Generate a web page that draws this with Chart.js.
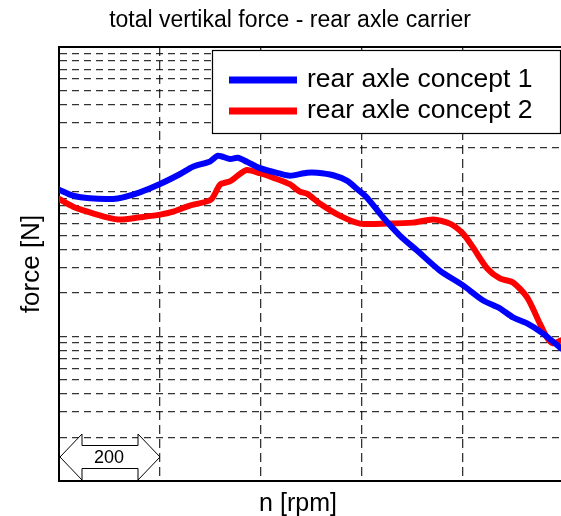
<!DOCTYPE html>
<html>
<head>
<meta charset="utf-8">
<script src="https://cdn.jsdelivr.net/npm/chart.js@4/dist/chart.umd.min.js"></script>
<style>
  html, body { margin: 0; padding: 0; overflow: hidden; background: #fff; }
  #wrap { width: 580px; height: 516px; }
</style>
</head>
<body>
<div id="wrap"><canvas id="forceChart" width="580" height="516"></canvas></div>
<script>
// engine speed [rpm] and total vertical force [N] per concept
const rpmConcept1 = [0, 28, 61, 107, 127, 160, 200, 240, 265, 299, 315, 339, 354, 372, 398, 438, 457, 491, 511, 543, 570, 592, 610, 642, 675, 709, 754, 800, 840, 873, 899, 927, 958, 994];
const forceConcept1 = [10320, 9380, 8990, 8910, 9135, 9890, 11300, 13250, 14870, 16180, 17720, 16810, 17160, 16100, 14530, 13310, 12890, 13520, 13520, 12990, 11910, 10320, 9090, 6620, 4970, 3920, 2850, 2250, 1770, 1560, 1352, 1229, 1049, 826];
const rpmConcept2 = [0, 28, 61, 95, 121, 160, 200, 226, 259, 301, 319, 339, 358, 372, 398, 424, 457, 477, 491, 517, 556, 596, 650, 701, 741, 774, 800, 820, 848, 873, 899, 927, 952, 966, 978, 994];
const forceConcept2 = [8910, 7880, 7200, 6650, 6410, 6650, 6940, 7280, 8010, 8810, 11180, 11810, 13250, 14110, 13410, 12490, 11260, 10000, 9690, 8260, 6830, 6015, 6015, 6110, 6410, 6015, 5130, 4110, 2944, 2512, 2358, 1858, 1229, 985, 895, 938];

const seriesNames = ['rear axle concept 1', 'rear axle concept 2'];
const seriesColors = ['#0000ff', '#ff0000'];

// log grid: 2..9 of every decade between 100 and 100000
const forceGrid = [100, 200, 300, 400, 500, 600, 700, 800, 900,
  1000, 2000, 3000, 4000, 5000, 6000, 7000, 8000, 9000,
  10000, 20000, 30000, 40000, 50000, 60000, 70000, 80000, 90000, 100000];
const rpmGrid = [0, 200, 400, 600, 800, 1000];
const scaleBarRpm = 200;

const titleText = 'total vertikal force - rear axle carrier';
const xLabel = 'n [rpm]';
const yLabel = 'force [N]';
const FONT = '"Liberation Sans", Arial, Helvetica, sans-serif';

const toPoints = (xs, ys) => xs.map((x, i) => ({ x: x, y: ys[i] }));

const decorations = {
  id: 'decorations',
  beforeDraw(chart) {
    const ctx = chart.ctx;
    ctx.save();
    ctx.fillStyle = '#fff';
    ctx.fillRect(0, 0, chart.width, chart.height);
    ctx.restore();
  },
  afterDraw(chart) {
    const ctx = chart.ctx;
    const area = chart.chartArea;
    const xs = chart.scales.x;
    ctx.save();

    // top frame line
    ctx.strokeStyle = '#000';
    ctx.lineWidth = 2;
    ctx.beginPath();
    ctx.moveTo(area.left, area.top);
    ctx.lineTo(area.right, area.top);
    ctx.stroke();

    // title and axis labels
    ctx.fillStyle = '#000';
    ctx.textAlign = 'center';
    ctx.textBaseline = 'alphabetic';
    ctx.font = '23px ' + FONT;
    ctx.fillText(titleText, 290, 27);
    ctx.font = '25px ' + FONT;
    ctx.fillText(xLabel, 298, 511);
    ctx.save();
    ctx.translate(39, 264);
    ctx.rotate(-Math.PI / 2);
    ctx.font = '26px ' + FONT;
    ctx.fillText(yLabel, 0, 0);
    ctx.restore();

    // legend box
    ctx.fillStyle = '#fff';
    ctx.fillRect(212, 50, 349, 84);
    ctx.strokeStyle = '#000';
    ctx.lineWidth = 1.2;
    ctx.strokeRect(212.5, 50.5, 348, 83);
    ctx.font = '26.5px ' + FONT;
    ctx.textAlign = 'left';
    chart.data.datasets.forEach((ds, i) => {
      const ly = 80 + i * 31;
      ctx.strokeStyle = ds.borderColor;
      ctx.lineWidth = 7;
      ctx.beginPath();
      ctx.moveTo(229, ly);
      ctx.lineTo(297, ly);
      ctx.stroke();
      ctx.fillStyle = '#000';
      ctx.fillText(ds.label, 307, ly + 7);
    });

    // speed scale bar
    const x0 = xs.getPixelForValue(0) + 1;
    const x1 = xs.getPixelForValue(scaleBarRpm);
    const cy = 457, headH = 23, shaftH = 11.5, headW = 22;
    ctx.beginPath();
    ctx.moveTo(x0, cy);
    ctx.lineTo(x0 + headW, cy - headH);
    ctx.lineTo(x0 + headW, cy - shaftH);
    ctx.lineTo(x1 - headW, cy - shaftH);
    ctx.lineTo(x1 - headW, cy - headH);
    ctx.lineTo(x1, cy);
    ctx.lineTo(x1 - headW, cy + headH);
    ctx.lineTo(x1 - headW, cy + shaftH);
    ctx.lineTo(x0 + headW, cy + shaftH);
    ctx.lineTo(x0 + headW, cy + headH);
    ctx.closePath();
    ctx.fillStyle = '#fff';
    ctx.fill();
    ctx.strokeStyle = '#000';
    ctx.lineWidth = 1;
    ctx.stroke();
    ctx.fillStyle = '#000';
    ctx.font = '18px ' + FONT;
    ctx.textAlign = 'center';
    ctx.fillText(String(scaleBarRpm), (x0 + x1) / 2 - 1, cy + 6);

    ctx.restore();
  }
};

new Chart(document.getElementById('forceChart').getContext('2d'), {
  type: 'line',
  data: {
    datasets: [
      { label: seriesNames[0], data: toPoints(rpmConcept1, forceConcept1), borderColor: seriesColors[0] },
      { label: seriesNames[1], data: toPoints(rpmConcept2, forceConcept2), borderColor: seriesColors[1] }
    ]
  },
  options: {
    responsive: false,
    animation: false,
    layout: { padding: { left: 59, top: 47, right: 16, bottom: 35 } },
    elements: {
      line: { borderWidth: 6, tension: 0.25, fill: false, borderCapStyle: 'round', borderJoinStyle: 'round' },
      point: { radius: 0 }
    },
    plugins: {
      legend: { display: false },
      title: { display: false },
      tooltip: { enabled: false }
    },
    scales: {
      x: {
        type: 'linear',
        min: 0,
        max: 1000,
        afterBuildTicks: (scale) => { scale.ticks = rpmGrid.map(v => ({ value: v })); },
        ticks: { display: false },
        grid: { color: 'rgba(0,0,0,0.8)', lineWidth: 1.3, drawTicks: false },
        border: { display: true, color: '#000', width: 2, dash: [9, 5] }
      },
      y: {
        type: 'logarithmic',
        min: 100,
        max: 100000,
        afterBuildTicks: (scale) => { scale.ticks = forceGrid.map(v => ({ value: v })); },
        ticks: { display: false },
        grid: { color: 'rgba(0,0,0,0.8)', lineWidth: 1.3, drawTicks: false },
        border: { display: true, color: '#000', width: 2, dash: [7, 5] }
      }
    }
  },
  plugins: [decorations]
});
</script>
</body>
</html>
